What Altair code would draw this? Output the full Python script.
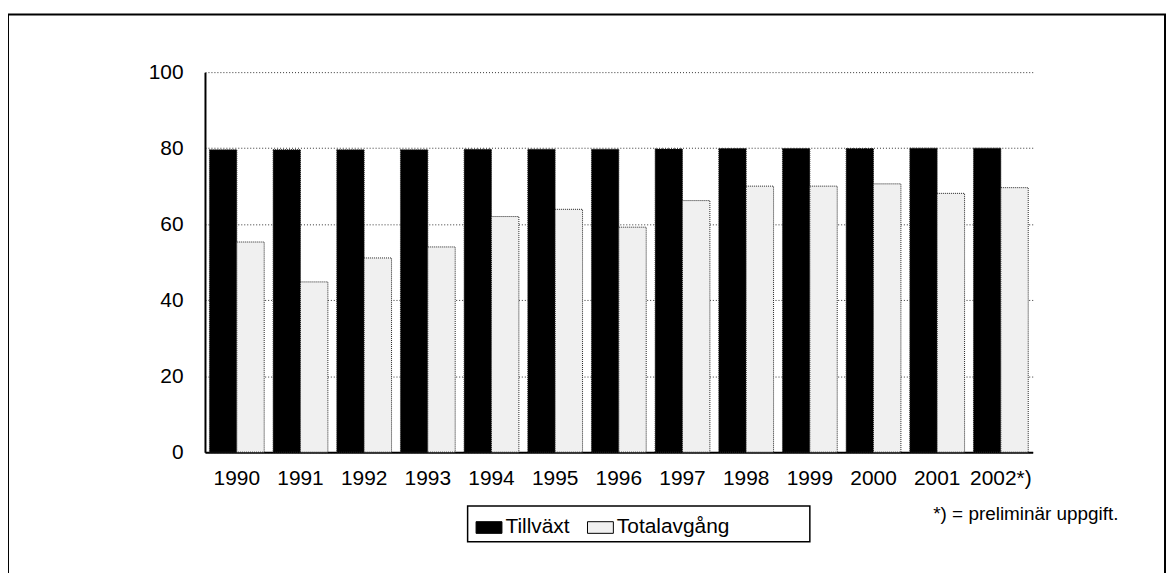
import altair as alt
import pandas as pd

years = ["1990", "1991", "1992", "1993", "1994", "1995", "1996",
         "1997", "1998", "1999", "2000", "2001", "2002*)"]
series = ["Tillväxt", "Totalavgång"]
tillvaxt = [79.6, 79.6, 79.6, 79.6, 79.7, 79.7, 79.7, 79.8, 79.9, 79.9, 79.9, 80.0, 80.0]
totalavgang = [55.3, 44.8, 51.1, 54.0, 62.0, 63.9, 59.2, 66.2, 70.0, 70.0, 70.6, 68.1, 69.6]
y_ticks = [0, 20, 40, 60, 80, 100]
footnote = "*) = preliminär uppgift."

FONT = "Liberation Sans, Arial, sans-serif"

rows = []
for i, yr in enumerate(years):
    rows.append({"year": yr, "series": series[0], "value": tillvaxt[i]})
    rows.append({"year": yr, "series": series[1], "value": totalavgang[i]})
df = pd.DataFrame(rows)

W, H = 832, 382

bars = alt.Chart(df).mark_bar(stroke="#222222", strokeWidth=1, strokeDash=[1, 1]).encode(
    x=alt.X("year:N", sort=years,
            scale=alt.Scale(paddingInner=0.14, paddingOuter=0.07),
            axis=alt.Axis(title=None, labelAngle=0, ticks=False, domainColor="black",
                          domainWidth=2, labelFontSize=21, labelPadding=16,
                          labelColor="black", grid=False)),
    xOffset=alt.XOffset("series:N", sort=series,
                        scale=alt.Scale(paddingInner=0, paddingOuter=0)),
    y=alt.Y("value:Q", scale=alt.Scale(domain=[0, 100], nice=False),
            axis=alt.Axis(values=y_ticks, title=None, ticks=False, labelPadding=22,
                          labelFontSize=21, labelColor="black", grid=True,
                          gridDash=[1, 2], gridColor="#333333", gridWidth=1,
                          domainColor="black", domainWidth=2)),
    fill=alt.Fill("series:N", sort=series,
                  scale=alt.Scale(domain=series, range=["#000000", "#f0f0f0"]),
                  legend=alt.Legend(title=None, orient="none", legendX=272, legendY=444,
                                    direction="horizontal", padding=0,
                                    symbolType="M-1,-0.45H1V0.45H-1Z", symbolSize=676,
                                    symbolStrokeColor="black", symbolStrokeWidth=1,
                                    labelFontSize=21, labelColor="black", labelOffset=3,
                                    columnPadding=15, labelFont=FONT)),
)

one = pd.DataFrame({"a": [0]})

frame = alt.Chart(one).mark_rect(fill="transparent", stroke="black", strokeWidth=2).encode(
    x=alt.value(-198), x2=alt.value(965), y=alt.value(-58), y2=alt.value(530)
)

legend_box = alt.Chart(one).mark_rect(fill="transparent", stroke="black", strokeWidth=1.5).encode(
    x=alt.value(264), x2=alt.value(608), y=alt.value(436), y2=alt.value(472)
)

note = alt.Chart(one).mark_text(align="left", baseline="middle", fontSize=19,
                                font=FONT, color="black").encode(
    x=alt.value(732), y=alt.value(444), text=alt.value(footnote)
)

chart = alt.layer(frame, bars, legend_box, note).properties(
    width=W, height=H,
    autosize=alt.AutoSizeParams(type="none"),
    padding={"left": 198, "top": 63, "right": 134, "bottom": 120},
    background="white",
).configure(font=FONT).configure_view(stroke=None)

chart.save("out.html", embed_options={"renderer": "svg", "actions": False})
